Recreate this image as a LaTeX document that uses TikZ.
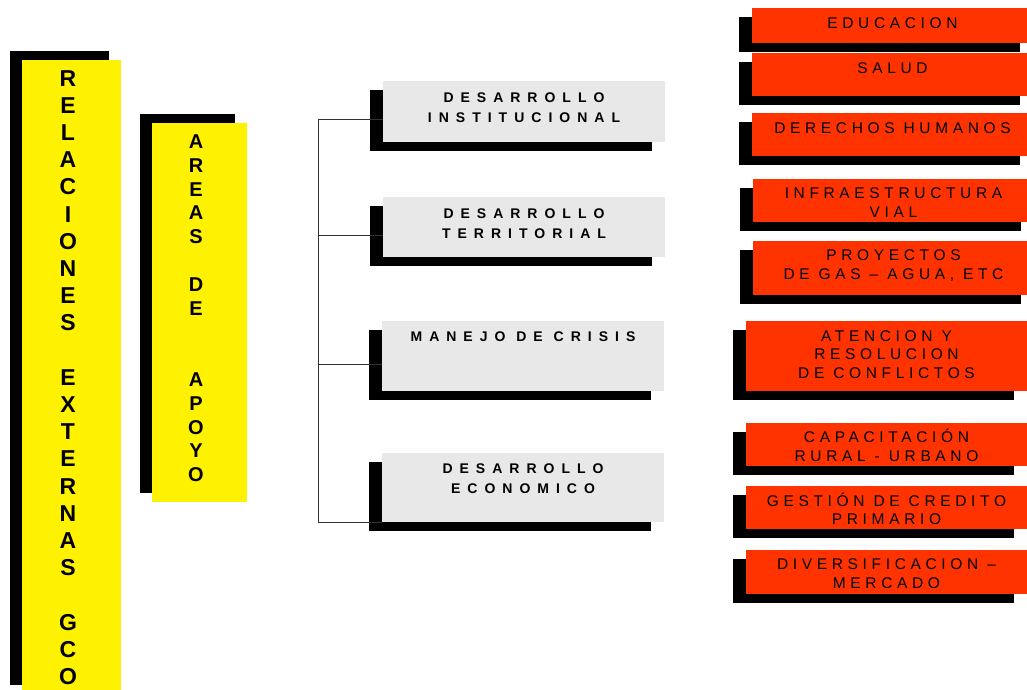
\documentclass[tikz,border=0pt]{standalone}
\usepackage{fontspec}
\setmainfont{Liberation Sans}
\newfontfamily\graytype[LetterSpace=50]{Liberation Sans}
\newfontfamily\redtype[LetterSpace=30]{Liberation Sans}
\usetikzlibrary{positioning}
\usetikzlibrary{shadows}
\definecolor{boxgray}{HTML}{E8E8E8}
\definecolor{boxred}{HTML}{FF3300}

\begin{document}
\begin{tikzpicture}[x=1pt,y=-1pt,
                    ybox/.style={rectangle,fill=yellow,
                                 inner sep=0,outer sep=0,
                                 drop shadow={shadow xshift=-12pt,shadow yshift=9pt,
                                              fill=black,opacity=1}
                                },
                    gbox/.style={rectangle,fill=boxgray,
                                 inner sep=0,outer sep=0,
                                 minimum width=282pt,
                                 drop shadow={shadow xshift=-13pt,shadow yshift=-9pt,
                                              fill=black,opacity=1}
                                },
                    rbox/.style={rectangle,fill=boxred,
                                 inner sep=0,outer sep=0,
                                 minimum width=281pt,
                                 drop shadow={shadow xshift=-13pt,shadow yshift=-9pt,
                                              fill=black,opacity=1}
                                },
                    vtext/.style={inner sep=0,align=center,anchor=north},
                    gtext/.style={inner sep=0,align=center,anchor=north,
                                  font={\graytype\bfseries\fontsize{14}{20}\selectfont}},
                    rtext/.style={inner sep=0,align=center,anchor=north,
                                  font={\redtype\fontsize{15.5}{18.5}\selectfont}},
                    link/.style={draw=black!80,line width=0.8pt}
                   ]
\clip (0,0) rectangle (1027,689);

\node[ybox,minimum width=99pt,minimum height=634pt,anchor=north west] (rel) at (22,60) {};
\node[vtext,font={\bfseries\fontsize{23}{27.2}\selectfont}] (relT) at ([xshift=-3.5pt,yshift=-10pt]rel.north)
  {R\\E\\L\\A\\C\\I\\O\\N\\E\\S\\[27.2pt]E\\X\\T\\E\\R\\N\\A\\S\\[27.2pt]G\\C\\O};

\node[ybox,minimum width=95pt,minimum height=379pt,anchor=north west] (areas) at (152,123) {};
\node[vtext,font={\bfseries\fontsize{20}{23.8}\selectfont}] (areasT) at ([xshift=-3.5pt,yshift=-11.5pt]areas.north)
  {A\\R\\E\\A\\S\\[23.8pt]D\\E\\[47.6pt]A\\P\\O\\Y\\O};

\node[gbox,minimum height=61pt,anchor=north west] (inst) at (383,81) {};
\node[gtext] (instT) at ([yshift=-12pt]inst.north) {DESARROLLO\\INSTITUCIONAL};
\node[gbox,minimum height=60pt,anchor=north west] (terr) at (383,197) {};
\node[gtext] (terrT) at ([yshift=-12pt]terr.north) {DESARROLLO\\TERRITORIAL};
\node[gbox,minimum height=70pt,anchor=north west] (crisis) at (382,321) {};
\node[gtext] (crisisT) at ([yshift=-11pt]crisis.north) {MANEJO DE CRISIS};
\node[gbox,minimum height=69pt,anchor=north west] (econ) at (382,453) {};
\node[gtext] (econT) at ([yshift=-11pt]econ.north) {DESARROLLO\\ECONOMICO};

\draw[link] ([yshift=-8pt]inst.west) -- ++(-65,0) |- (econ.south west);
\draw[link] ([yshift=-8pt]terr.west) -- ++(-65,0);
\draw[link] ([yshift=-8pt]crisis.west) -- ++(-64,0);

\node[rbox,minimum height=35pt,anchor=north west] (educ) at (752,8) {};
\node[rtext] (educT) at ([yshift=-9pt]educ.north) {EDUCACION};
\node[rbox,minimum height=43pt,anchor=north west] (salud) at (752,53) {};
\node[rtext] (saludT) at ([yshift=-9pt]salud.north) {SALUD};
\node[rbox,minimum height=43pt,anchor=north west] (ddhh) at (752,113) {};
\node[rtext] (ddhhT) at ([yshift=-9.5pt]ddhh.north) {DERECHOS HUMANOS};
\node[rbox,minimum height=43pt,anchor=north west] (infra) at (753,179) {};
\node[rtext] (infraT) at ([yshift=-8.5pt]infra.north) {INFRAESTRUCTURA\\VIAL};
\node[rbox,minimum height=54pt,anchor=north west] (proy) at (753,241) {};
\node[rtext] (proyT) at ([yshift=-8.5pt]proy.north) {PROYECTOS\\DE GAS – AGUA, ETC};
\node[rbox,minimum height=70pt,anchor=north west] (conf) at (746,321) {};
\node[rtext] (confT) at ([yshift=-9pt]conf.north) {ATENCION Y\\RESOLUCION\\DE CONFLICTOS};
\node[rbox,minimum height=43pt,anchor=north west] (capa) at (746,423) {};
\node[rtext] (capaT) at ([yshift=-6pt]capa.north) {CAPACITACIÓN\\RURAL - URBANO};
\node[rbox,minimum height=43pt,anchor=north west] (cred) at (746,486) {};
\node[rtext] (credT) at ([yshift=-6.5pt]cred.north) {GESTIÓN DE CREDITO\\PRIMARIO};
\node[rbox,minimum height=44pt,anchor=north west] (merc) at (746,550) {};
\begin{scope}
\clip (merc.north west) rectangle ([yshift=7pt]merc.south east);
\node[rtext] (mercT) at ([yshift=-8.5pt]merc.north) {DIVERSIFICACION –\\MERCADO};
\end{scope}
\end{tikzpicture}
\end{document}
